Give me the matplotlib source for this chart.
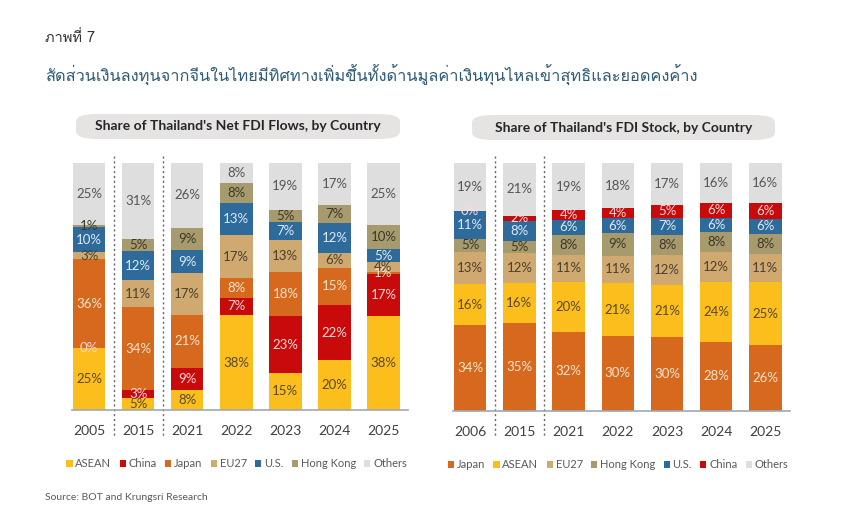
import numpy as np
import matplotlib
matplotlib.use("Agg")
import matplotlib.pyplot as plt
from matplotlib import font_manager
from matplotlib.patches import FancyBboxPatch
from matplotlib.transforms import blended_transform_factory

# --- data -------------------------------------------------------------
flow_years = ["2005", "2015", "2021", "2022", "2023", "2024", "2025"]
flow_series = ["ASEAN", "China", "Japan", "EU27", "U.S.", "Hong Kong", "Others"]
flow_asean = [25, 5, 8, 38, 15, 20, 38]
flow_china = [0, 3, 9, 7, 23, 22, 17]
flow_japan = [36, 34, 21, 8, 18, 15, 1]
flow_eu27 = [3, 11, 17, 17, 13, 6, 4]
flow_us = [10, 12, 9, 13, 7, 12, 5]
flow_hk = [1, 5, 9, 8, 5, 7, 10]
flow_others = [25, 31, 26, 8, 19, 17, 25]

stock_years = ["2006", "2015", "2021", "2022", "2023", "2024", "2025"]
stock_series = ["Japan", "ASEAN", "EU27", "Hong Kong", "U.S.", "China", "Others"]
stock_japan = [34, 35, 32, 30, 30, 28, 26]
stock_asean = [16, 16, 20, 21, 21, 24, 25]
stock_eu27 = [13, 12, 11, 11, 12, 12, 11]
stock_hk = [5, 5, 8, 9, 8, 8, 8]
stock_us = [11, 8, 6, 6, 7, 6, 6]
stock_china = [0, 2, 4, 4, 5, 6, 6]
stock_others = [19, 21, 19, 18, 17, 16, 16]

# --- styles -----------------------------------------------------------
colors = {
    "ASEAN": "#FBBE1C", "China": "#C90A0A", "Japan": "#D6691E",
    "EU27": "#CFA96F", "U.S.": "#2E6A9A", "Hong Kong": "#A79B6D",
    "Others": "#DEDEDE",
}
label_colors = {
    "ASEAN": "#5A4A22", "China": "#FFD9D9", "Japan": "#FCE3CC",
    "EU27": "#4A4030", "U.S.": "#DCEBF8", "Hong Kong": "#3C3828",
    "Others": "#555555",
}


def pick_font(names):
    avail = {f.name for f in font_manager.fontManager.ttflist}
    for n in names:
        if n in avail:
            return n
    return "DejaVu Sans"


def thai_font():
    # find an installed font that has Thai glyphs
    try:
        from fontTools.ttLib import TTFont
    except ImportError:
        return None
    seen = set()
    for f in font_manager.fontManager.ttflist:
        if f.name in seen:
            continue
        seen.add(f.name)
        try:
            tt = TTFont(f.fname, fontNumber=0, lazy=True)
            cmap = tt.getBestCmap()
            if cmap and 0x0E2A in cmap and 0x0E14 in cmap:
                return f.name
        except Exception:
            continue
    return None


latin = pick_font(["Lato", "Open Sans", "DejaVu Sans"])
thai = thai_font()
thai_family = [thai, latin] if thai else [latin]
plt.rcParams["font.family"] = [latin, "DejaVu Sans"]

fig = plt.figure(figsize=(8.6, 5.29), dpi=100)
W, H = 860, 529


def draw_panel(ax, years, series, data, title, box):
    x = np.arange(len(years))
    bottom = np.zeros(len(years))
    totals = np.sum(data, axis=0)
    for name, vals in zip(series, data):
        v = np.array(vals, dtype=float) / totals * 100
        ax.bar(x, v, 0.66, bottom=bottom, color=colors[name], label=name)
        for xi, b, h, raw in zip(x, bottom, v, vals):
            ax.text(xi, b + h / 2, f"{raw}%", ha="center", va="center",
                    fontsize=9.5, color=label_colors[name])
        bottom += v
    ax.set_xlim(-0.35, 6.5)
    ax.set_ylim(0, 100)
    ax.set_xticks(x)
    ax.set_xticklabels(years, fontsize=10, color="#404040")
    ax.tick_params(axis="x", length=0, pad=11)
    ax.set_yticks([])
    for s in ["top", "left", "right"]:
        ax.spines[s].set_visible(False)
    ax.spines["bottom"].set_color("#A0A8B0")
    ax.spines["bottom"].set_linewidth(1.2)
    tr = blended_transform_factory(ax.transData, ax.transAxes)
    for sx in [0.5, 1.5]:
        ax.plot([sx, sx], [1.03, -0.105], transform=tr, clip_on=False,
                color="#666666", lw=1.0, ls=(0, (1.5, 2)))
    leg = ax.legend(loc="upper center", bbox_to_anchor=(0.49, -0.155), ncol=7,
                    frameon=False, fontsize=8, handlelength=0.55,
                    handleheight=0.55, handletextpad=0.25, columnspacing=0.75)
    for t in leg.get_texts():
        t.set_color("#595959")
    # rounded title box
    x0, y0, x1, y1 = box
    fig.patches.append(FancyBboxPatch(
        (x0 / W, 1 - y1 / H), (x1 - x0) / W, (y1 - y0) / H,
        boxstyle="round,pad=0,rounding_size=0.024", transform=fig.transFigure,
        facecolor="#E6E3E3", edgecolor="none", mutation_aspect=529 / 860))
    fig.text((x0 + x1) / 2 / W, 1 - (y0 + y1) / 2 / H, title, ha="center",
             va="center", fontsize=10, fontweight="bold", color="#262626")


ax1 = fig.add_axes([72 / W, 1 - 410 / H, 336 / W, 247 / H])
draw_panel(ax1, flow_years, flow_series,
           [flow_asean, flow_china, flow_japan, flow_eu27, flow_us, flow_hk, flow_others],
           "Share of Thailand's Net FDI Flows, by Country", (76, 114, 400, 139))

ax2 = fig.add_axes([453 / W, 1 - 411 / H, 337 / W, 248 / H])
draw_panel(ax2, stock_years, stock_series,
           [stock_japan, stock_asean, stock_eu27, stock_hk, stock_us, stock_china, stock_others],
           "Share of Thailand's FDI Stock, by Country", (472, 115, 775, 140))

fig.text(45 / W, 1 - 38 / H, "ภาพที่ 7", family=thai_family, fontsize=10.5,
         color="#333333", va="center")
fig.text(45 / W, 1 - 75 / H,
         "สัดส่วนเงินลงทุนจากจีนในไทยมีทิศทางเพิ่มขึ้นทั้งด้านมูลค่าเงินทุนไหลเข้าสุทธิและยอดคงค้าง",
         family=thai_family, fontsize=11.8, color="#2F5B78", va="center")
fig.text(45 / W, 1 - 497 / H, "Source: BOT and Krungsri Research",
         fontsize=7.5, color="#595959", va="center")

fig.savefig("out.png", dpi=100, facecolor="white")
